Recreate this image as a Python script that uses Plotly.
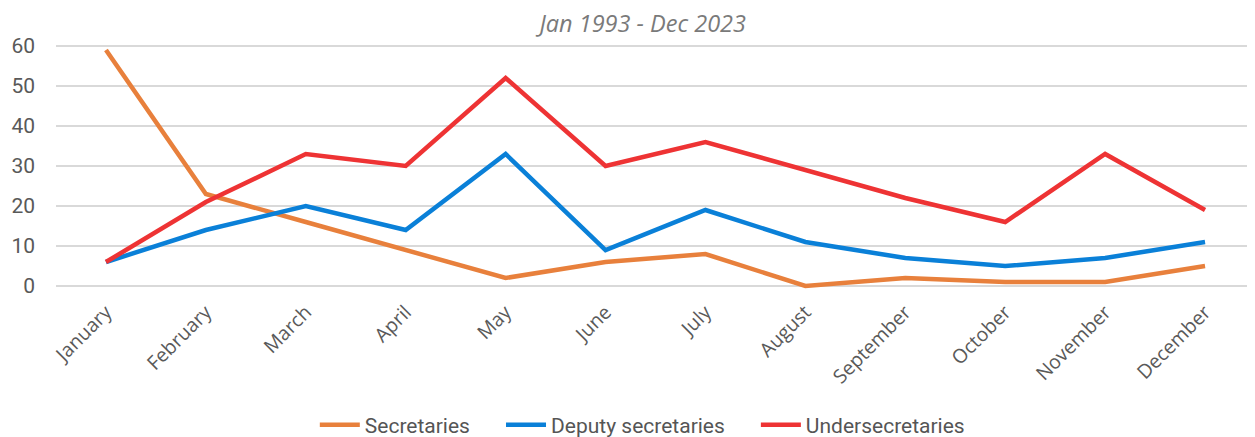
import plotly.graph_objects as go

months = ["January", "February", "March", "April", "May", "June", "July",
          "August", "September", "October", "November", "December"]
secretaries = [59, 23, 16, 9, 2, 6, 8, 0, 2, 1, 1, 5]
deputy_secretaries = [6, 14, 20, 14, 33, 9, 19, 11, 7, 5, 7, 11]
undersecretaries = [6, 21, 33, 30, 52, 30, 36, 29, 22, 16, 33, 19]
y_ticks = [0, 10, 20, 30, 40, 50, 60]

series = [
    ("Secretaries", secretaries, "#E8803C"),
    ("Deputy secretaries", deputy_secretaries, "#0A80D8"),
    ("Undersecretaries", undersecretaries, "#EE3334"),
]

# the page body has an 8px default margin, so the figure is sized to fit the window
W, H = 1247, 429

pad = "\u00a0" * 5
fig = go.Figure()
for i, (name, vals, color) in enumerate(series):
    label = name + (pad if i < len(series) - 1 else "")
    fig.add_trace(go.Scatter(x=months, y=vals, name=label, mode="lines",
                             hovertemplate=name + ": %{y}<extra></extra>",
                             line=dict(color=color, width=4.5)))

fig.update_layout(
    width=W, height=H,
    margin=dict(l=48, r=0, t=34, b=147, autoexpand=False),
    paper_bgcolor="white", plot_bgcolor="white",
    title=dict(text="<i>Jan 1993 - Dec 2023</i>", x=0.509, xanchor="center",
               xref="container", yref="container",
               y=0.982, yanchor="top",
               font=dict(family="Open Sans", size=23.5, color="#7a7a7a")),
    showlegend=True,
    legend=dict(orientation="h", x=0.489, xanchor="center",
                y=0.028, yanchor="middle", yref="container",
                font=dict(family="Roboto", size=21, color="#555555"),
                itemwidth=40, tracegroupgap=0),
    xaxis=dict(range=[-0.5, 11.5], showgrid=False, showline=False, ticks="",
               automargin=False, tickangle=-45, ticklabelstandoff=6,
               tickfont=dict(family="Open Sans", size=19.5, color="#595959")),
    yaxis=dict(range=[-1, 61], tickvals=y_ticks, showgrid=True, gridcolor="#d9d9d9",
               gridwidth=1.5, zeroline=False, showline=False, ticks="",
               automargin=False, ticklabelstandoff=20,
               tickfont=dict(family="Roboto", size=21, color="#595959")),
)

fig.write_html("out.html")
